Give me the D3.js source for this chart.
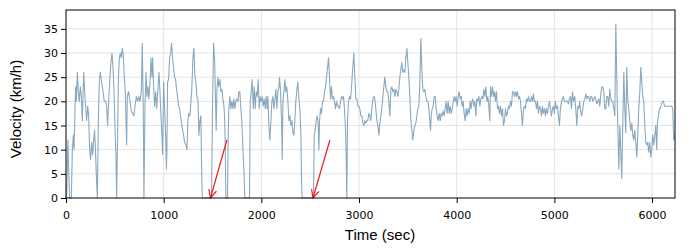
<!DOCTYPE html>
<html>
<head>
<meta charset="utf-8">
<script src="https://cdn.jsdelivr.net/npm/d3@7"></script>
<style>
  body { margin: 0; background: #fff; }
  .tick text { font-family: "DejaVu Sans", sans-serif; font-size: 11px; fill: #000; }
  .axis-title { font-family: "Liberation Sans", Arial, sans-serif; font-size: 15px; fill: #000; }
</style>
</head>
<body>
<svg id="chart"></svg>
<script>
// Velocity trace, [time (sec), velocity (km/h)]
var velocityTrace = [[0,0],[7,1],[20,12],[27,6],[37,0],[55,0],[65,10],[75,13],[82,10],[92,18],[99,23],[106,20],[116,26],[126,22],[136,20],[147,23],[157,21],[167,16],[181,26],[191,22],[201,19],[211,16],[222,19],[232,17],[242,10],[252,8],[263,11.5],[273,9],[283,12],[293,14],[304,8.5],[314,3],[321,0],[331,16],[341,24],[351,26],[365,24],[379,22],[392,20],[406,20],[416,19],[426,15],[437,20],[450,25],[460,28],[471,30],[481,27],[491,22.5],[501,15],[512,8],[518,0],[529,13],[536,24.5],[546,29],[556,30],[566,29],[576,31],[587,29.5],[597,25],[607,22],[614,16],[621,11],[628,21],[641,22],[655,20],[669,18],[682,17.5],[696,17],[706,19],[720,21],[733,20],[747,21],[757,20],[771,22],[781,32],[791,18.5],[798,0],[808,18.5],[819,26],[829,21],[839,23],[849,20.5],[860,24],[870,29],[880,25],[887,29],[897,23],[907,19],[918,22],[928,18.5],[941,22.5],[952,26],[962,22],[972,17],[982,13],[989,9],[999,24],[1010,18.5],[1020,13],[1028,6],[1033,10],[1040,24],
  [1050,24.5],[1061,29],[1071,30],[1081,32],[1091,29],[1101,27],[1112,25],[1122,24.5],[1132,22.5],[1142,21],[1153,19],[1163,18.5],[1173,17],[1183,15.5],[1194,14],[1204,13],[1214,11.5],[1228,11],[1238,10],[1248,16],[1258,17.5],[1269,17],[1279,20],[1289,23],[1299,29],[1310,31],[1320,25],[1330,24],[1340,21],[1351,20.5],[1361,13],[1371,16],[1381,17],[1388,6.5],[1395,0],[1490,0],[1500,18.5],[1511,32],[1521,29],[1531,20],[1538,14],[1545,22.5],[1555,25],[1565,23],[1576,24.5],[1586,22],[1596,22.5],[1606,20.5],[1617,19],[1623,17],[1630,11.5],[1637,0],[1654,0],[1661,14],[1668,18.5],[1678,21],[1688,18.5],[1698,20],[1709,18.5],[1719,20.5],[1729,18.5],[1739,20],[1750,20.5],[1760,20],[1770,22],[1780,22],[1790,18.5],[1801,15.5],[1811,10],[1821,6],[1831,0],[1879,0],[1886,20],[1896,22],[1906,24.5],[1917,18.5],[1927,23],[1937,18.5],[1947,22],[1958,21],[1968,24.5],[1978,18.5],[1988,21],[1999,20],[2009,21],[2019,19],[2029,20.5],[2040,18.5],[2050,21],[2060,18.5],
  [2067,21],[2077,15],[2087,12],[2098,16],[2108,20],[2118,21],[2128,18.5],[2139,20.5],[2149,22.5],[2159,18.5],[2169,22],[2180,23],[2186,25],[2197,22],[2207,16],[2214,8],[2221,20],[2231,22],[2241,24.5],[2251,22],[2261,23],[2272,20],[2282,16],[2292,17],[2302,15],[2313,16],[2323,13.5],[2333,13],[2343,16],[2353,20],[2364,22.5],[2374,24],[2384,20.5],[2394,18.5],[2405,13],[2412,3],[2418,0],[2534,0],[2541,13],[2551,14],[2562,16],[2572,17],[2582,15.5],[2589,10],[2596,16],[2606,18.5],[2616,17.5],[2626,20],[2637,20],[2647,22],[2657,23],[2667,25],[2678,27],[2688,29],[2698,25],[2708,20.5],[2718,23],[2729,20.5],[2739,21],[2749,20],[2759,18.5],[2770,20],[2780,19],[2790,19],[2800,18.5],[2811,20],[2821,21],[2831,20.5],[2841,21],[2851,18.5],[2862,14],[2869,8],[2875,0],[2882,16],[2892,20],[2903,21],[2913,20.5],[2923,23],[2933,26],[2947,30],[2957,25],[2968,20.5],[2978,20.5],[2988,19],[2998,19],[3008,18.5],[3019,17],[3029,17],[3039,15.5],[3049,15],[3060,16],[3070,15.5],[3080,16],[3090,16],[3101,17.5],
  [3111,17],[3121,16],[3131,18.5],[3142,20.5],[3152,21],[3162,20.5],[3172,18.5],[3183,16],[3193,15],[3203,13],[3213,15.5],[3224,17],[3234,18.5],[3244,21],[3254,23],[3264,25],[3275,23],[3285,22],[3295,22],[3305,20],[3316,17],[3326,22.5],[3336,23],[3346,22],[3357,22.5],[3367,21],[3377,22.5],[3387,22],[3398,21],[3408,22.5],[3418,25],[3428,26.5],[3438,28],[3449,26],[3459,26.5],[3469,26],[3479,29],[3490,31],[3500,28],[3510,25],[3520,21],[3531,16],[3541,14],[3551,12],[3561,14],[3572,15],[3582,15.5],[3592,17],[3602,18.5],[3612,19],[3623,24],[3633,33],[3643,26.5],[3653,22.5],[3664,22],[3674,22.5],[3684,21],[3694,20],[3705,20],[3715,18.5],[3725,16],[3732,14],[3739,17],[3749,18.5],[3759,19],[3769,21],[3780,21],[3790,18.5],[3800,17],[3810,16],[3821,17.5],[3831,16],[3841,17.5],[3851,17],[3861,18],[3872,17],[3882,18.5],[3892,20],[3902,17.5],[3913,20],[3923,17.5],[3933,19],[3943,17.5],[3954,18.5],[3964,20],[3974,21],[3984,20],[3994,21],[4005,19],[4015,21],[4025,22],[4035,20.5],[4046,21],[4056,19],[4066,20],[4076,17.5],[4087,16],[4097,18.5],[4107,17],[4117,18.5],[4128,17.5],[4138,20],[4148,18.5],
  [4155,20],[4165,20.5],[4175,19],[4186,20],[4196,17],[4206,20.5],[4216,20],[4227,21],[4237,19],[4247,20.5],[4257,21],[4268,20.5],[4278,22.5],[4288,21],[4298,23],[4309,20],[4319,21],[4329,19],[4339,16],[4346,23],[4356,21],[4366,23],[4377,21],[4387,22],[4397,20],[4407,22],[4418,18.5],[4428,19],[4438,17.5],[4448,19],[4459,17],[4469,18.5],[4479,15],[4489,16],[4500,18.5],[4510,17],[4520,17.5],[4530,19],[4540,18.5],[4551,20],[4561,19],[4571,22],[4581,22],[4592,21],[4602,22],[4612,21],[4622,22],[4633,20.5],[4643,21],[4653,20],[4663,17.5],[4673,15],[4684,18.5],[4694,19],[4704,18.5],[4714,20.5],[4725,20],[4735,21],[4745,20],[4755,20],[4766,21],[4776,20],[4786,21.5],[4796,20],[4807,20],[4817,18.5],[4827,20],[4837,17.5],[4847,19],[4858,18.5],[4868,17],[4878,19],[4888,17.5],[4899,18.5],[4909,17],[4919,18.5],[4929,17.5],[4940,19],[4950,20],[4960,18.5],[4970,17],[4981,18.5],[4991,19],[5001,17.5],[5011,20],[5021,18.5],[5032,19],[5042,17],[5052,15],[5062,18.5],[5073,20],[5083,20.5],[5093,21],[5103,20],[5113,20],[5124,20],[5134,20],[5144,19.5],[5154,20.5],[5165,21],[5175,18.5],[5185,22],[5195,20],
  [5209,21],[5219,18.5],[5230,15],[5240,19],[5250,18.5],[5260,20],[5271,17.5],[5281,17],[5291,18.5],[5301,20],[5312,20.5],[5322,21.5],[5332,20.5],[5342,21],[5352,21],[5363,20],[5373,21],[5383,21],[5393,20],[5404,20.5],[5414,21],[5424,20.5],[5434,19.5],[5445,20],[5455,20.5],[5465,19],[5475,21.5],[5486,23],[5496,23],[5506,22],[5516,18.5],[5526,18.5],[5537,21],[5547,21],[5557,19],[5567,22.5],[5578,20.5],[5588,20],[5598,20],[5608,18.5],[5619,17],[5629,36],[5639,25],[5649,15],[5660,6],[5670,15],[5680,10],[5690,4],[5700,15],[5711,26],[5721,18.5],[5731,13.5],[5741,27],[5752,20],[5762,18.5],[5772,16],[5782,14],[5793,15.5],[5803,13],[5813,12],[5823,14],[5834,11.5],[5844,8.5],[5854,13],[5864,18.5],[5875,22],[5885,27],[5895,24],[5905,21],[5915,20],[5926,15],[5936,11.5],[5946,11],[5956,11.5],[5966,9.5],[5977,11.5],[5987,8.5],[5997,10],[6007,13],[6018,11],[6028,13],[6038,15],[6048,10],[6055,15.5],[6065,17],[6076,18.5],[6086,18.5],[6096,19.5],[6106,20],[6117,20],[6127,19],[6137,19],[6147,19],[6171,19],[6202,19],[6212,18.5],[6222,12],[6232,13]];

// Tick values
var xTicks = [0, 1000, 2000, 3000, 4000, 5000, 6000];
var yTicks = [0, 5, 10, 15, 20, 25, 30, 35];

// Red arrows: [tail time, tail velocity, tip time, tip velocity]
var arrows = [[1647, 12, 1479, 0], [2702, 12, 2529, 0]];

// Size & margins
var width = 700,
    height = 250,
    margin = {top: 10, right: 25, bottom: 52, left: 66};

var svg = d3.select("#chart")
  .attr("width", width)
  .attr("height", height);

var x = d3.scaleLinear()
  .domain([0, 6235])
  .range([margin.left, width - margin.right]);

var y = d3.scaleLinear()
  .domain([0, 38.9])
  .range([height - margin.bottom, margin.top]);

// Grid lines
svg.append("g")
  .selectAll("line.vgrid")
  .data(xTicks.slice(1))
  .enter().append("line")
    .attr("x1", function(d) { return x(d); })
    .attr("x2", function(d) { return x(d); })
    .attr("y1", y.range()[0])
    .attr("y2", y.range()[1])
    .attr("stroke", "#e3e3e3")
    .attr("stroke-width", 1);

svg.append("g")
  .selectAll("line.hgrid")
  .data(yTicks.slice(1))
  .enter().append("line")
    .attr("x1", x.range()[0])
    .attr("x2", x.range()[1])
    .attr("y1", function(d) { return y(d); })
    .attr("y2", function(d) { return y(d); })
    .attr("stroke", "#e3e3e3")
    .attr("stroke-width", 1);

// Velocity line
var line = d3.line()
  .x(function(d) { return x(d[0]); })
  .y(function(d) { return y(d[1]); });

svg.append("path")
  .datum(velocityTrace)
  .attr("d", line)
  .attr("fill", "none")
  .attr("stroke", "#89a9c0")
  .attr("stroke-width", 1.1)
  .attr("stroke-linejoin", "round");

// Arrows
arrows.forEach(function(a) {
  var x1 = x(a[0]), y1 = y(a[1]), x2 = x(a[2]), y2 = y(a[3]);
  var ang = Math.atan2(y2 - y1, x2 - x1), head = 9, spread = 0.45;
  svg.append("line")
    .attr("x1", x1).attr("y1", y1).attr("x2", x2).attr("y2", y2)
    .attr("stroke", "#ee1c1c").attr("stroke-width", 1.2);
  svg.append("path")
    .attr("d", "M" + (x2 - head * Math.cos(ang - spread)) + "," + (y2 - head * Math.sin(ang - spread)) +
               "L" + x2 + "," + y2 +
               "L" + (x2 - head * Math.cos(ang + spread)) + "," + (y2 - head * Math.sin(ang + spread)))
    .attr("fill", "none").attr("stroke", "#ee1c1c").attr("stroke-width", 1.2);
});

// Axes
var xAxis = svg.append("g")
  .attr("transform", "translate(0," + y.range()[0] + ")")
  .call(d3.axisBottom(x).tickValues(xTicks).tickFormat(d3.format("d")).tickSize(5).tickPadding(8));

var yAxis = svg.append("g")
  .attr("transform", "translate(" + x.range()[0] + ",0)")
  .call(d3.axisLeft(y).tickValues(yTicks).tickSize(5).tickPadding(3));

xAxis.select(".domain").remove();
yAxis.select(".domain").remove();

// Frame
svg.append("rect")
  .attr("x", x.range()[0])
  .attr("y", y.range()[1])
  .attr("width", x.range()[1] - x.range()[0])
  .attr("height", y.range()[0] - y.range()[1])
  .attr("fill", "none")
  .attr("stroke", "#000")
  .attr("stroke-width", 1);

// Axis titles
svg.append("text")
  .attr("class", "axis-title")
  .attr("x", 380)
  .attr("y", 240)
  .style("text-anchor", "middle")
  .text("Time (sec)");

svg.append("text")
  .attr("class", "axis-title")
  .attr("transform", "translate(21,109) rotate(-90)")
  .style("text-anchor", "middle")
  .text("Velocity (km/h)");
</script>
</body>
</html>
